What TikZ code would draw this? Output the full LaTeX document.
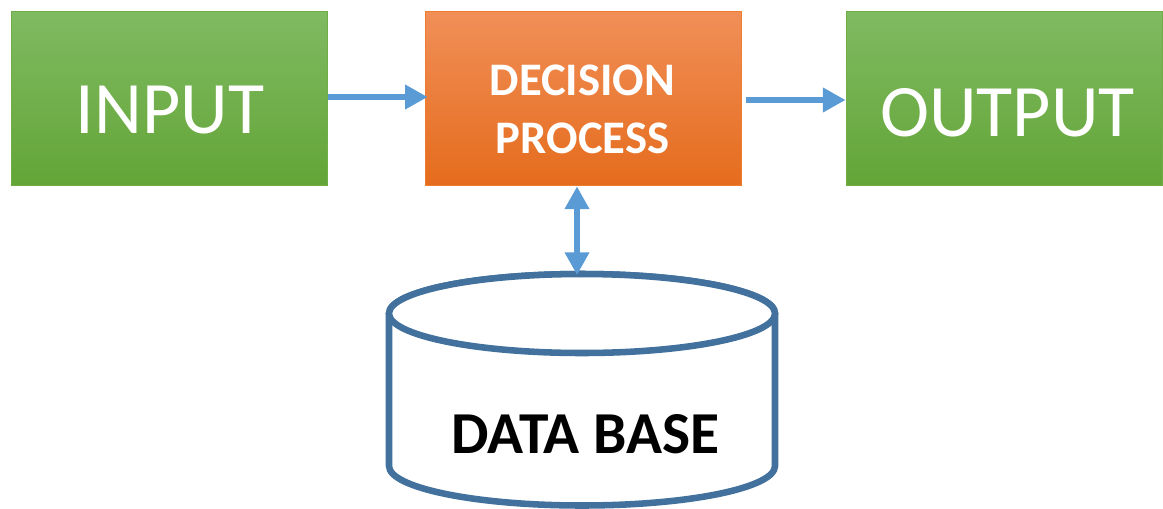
\documentclass[tikz,border=0pt]{standalone}
\usepackage{fontspec}
\setmainfont{Carlito}
\usetikzlibrary{arrows.meta,calc}
\definecolor{gtop}{RGB}{128,186,98}
\definecolor{gbot}{RGB}{99,165,55}
\definecolor{gbrd}{RGB}{112,173,71}
\definecolor{otop}{RGB}{241,143,88}
\definecolor{obot}{RGB}{229,108,29}
\definecolor{obrd}{RGB}{237,125,49}
\definecolor{arr}{RGB}{91,155,213}
\definecolor{cyl}{RGB}{65,113,156}
\tikzset{
  greenbox/.style={rectangle, minimum width=237pt, minimum height=130.5pt, inner sep=0pt,
    top color=gtop, bottom color=gbot, draw=gbrd, line width=0.6pt},
  orangebox/.style={rectangle, minimum width=237pt, minimum height=130.5pt, inner sep=0pt,
    top color=otop, bottom color=obot, draw=obrd, line width=0.6pt},
  bigtext/.style={anchor=base, inner sep=0pt, text=white, font=\fontsize{55.5}{60}\selectfont},
  dptext/.style={anchor=base, inner sep=0pt, text=white, font=\fontsize{35}{43.5}\selectfont\bfseries},
  flow/.style={draw=arr, line width=5pt, -{Triangle[length=17pt,width=17.5pt]}},
  flowboth/.style={draw=arr, line width=5pt, {Triangle[length=17pt,width=17.5pt]}-{Triangle[length=17pt,width=17.5pt]}},
  cylline/.style={draw=cyl, line width=4.9pt, fill=white},
  dblabel/.style={anchor=base, inner sep=0pt, font=\fontsize{44.6}{48}\selectfont\bfseries, text=black}
}
\begin{document}
\begin{tikzpicture}[x=0.75pt,y=-0.75pt]
\useasboundingbox (0,0) rectangle (1163,508);
\node[greenbox] (in) at (169,98) {};
\node[orangebox] (dp) at (583.5,98) {};
\node[greenbox] (out) at (1004,98) {};
\node[bigtext] (intext) at (170,133) {INPUT};
\node[bigtext] (outtext) at (1007.5,136.5) {OUTPUT};
\node[dptext] (dp1) at (582.5,95) {DECISION};
\node[dptext] (dp2) at (582.5,153) {PROCESS};
% cylinder
\path[cylline] (389,313.5) -- (389,466) arc[start angle=180,end angle=0,x radius=193,y radius=39.5] -- (775,313.5) arc[start angle=0,end angle=-180,x radius=193,y radius=39.5] -- cycle;
\draw[cylline] (582,313.5) ellipse[x radius=193,y radius=39.5];
\coordinate (dbtop) at (577,275);
\node[dblabel] (db) at (585.5,453) {DATA BASE};
% connectors
\draw[flow] ([yshift=0.75pt]in.east) ++(1,0) -- ([xshift=2pt,yshift=0.75pt]dp.west);
\draw[flow] ([yshift=-1.5pt]dp.east) ++(4,0) -- ([yshift=-1.5pt]out.west);
\draw[flowboth] ([yshift=-0.75pt]dp.south -| dbtop) -- (dbtop);
\end{tikzpicture}
\end{document}
